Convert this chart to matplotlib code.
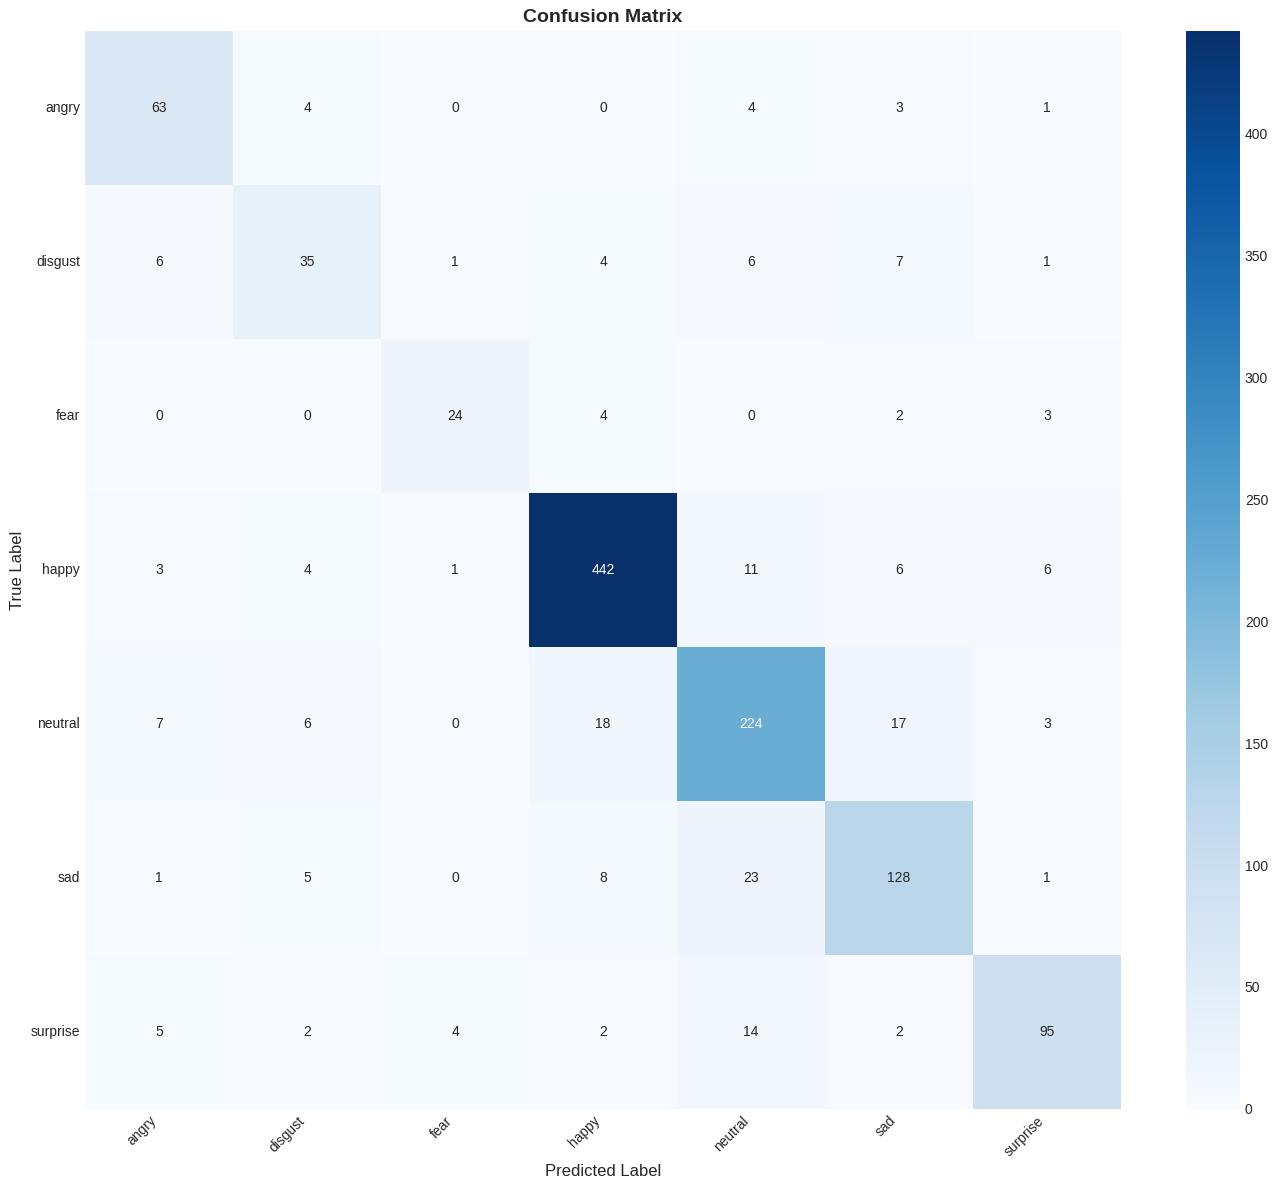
import numpy as np
import matplotlib
matplotlib.use("Agg")
import matplotlib.pyplot as plt
import seaborn as sns

plt.style.use("seaborn-v0_8-whitegrid")
plt.rcParams['font.family'] = ['Liberation Sans', 'DejaVu Sans']

# === Data ===
labels = ["angry", "disgust", "fear", "happy", "neutral", "sad", "surprise"]
row_angry = [63, 4, 0, 0, 4, 3, 1]
row_disgust = [6, 35, 1, 4, 6, 7, 1]
row_fear = [0, 0, 24, 4, 0, 2, 3]
row_happy = [3, 4, 1, 442, 11, 6, 6]
row_neutral = [7, 6, 0, 18, 224, 17, 3]
row_sad = [1, 5, 0, 8, 23, 128, 1]
row_surprise = [5, 2, 4, 2, 14, 2, 95]

cm = np.array([row_angry, row_disgust, row_fear, row_happy,
               row_neutral, row_sad, row_surprise])

# === Plot ===
fig = plt.figure(figsize=(12.77, 11.9), dpi=100)
ax = fig.add_axes([0.0666, 0.0681, 0.8113, 0.906])
cax = fig.add_axes([0.9287, 0.0681, 0.0423, 0.906])

sns.heatmap(cm, annot=True, fmt="d", cmap="Blues", ax=ax, cbar_ax=cax,
            xticklabels=labels, yticklabels=labels,
            annot_kws={"fontsize": 10})

ax.set_title("Confusion Matrix", fontsize=14, fontweight="bold", pad=6)
ax.set_xlabel("Predicted Label", fontsize=12)
ax.set_ylabel("True Label", fontsize=12)
plt.setp(ax.get_xticklabels(), rotation=45, ha="right", fontsize=10)
plt.setp(ax.get_yticklabels(), rotation=0, fontsize=10)
cax.tick_params(labelsize=10)
cax.set_yticks(np.arange(0, 401, 50))

fig.savefig("out.png", dpi=100)
